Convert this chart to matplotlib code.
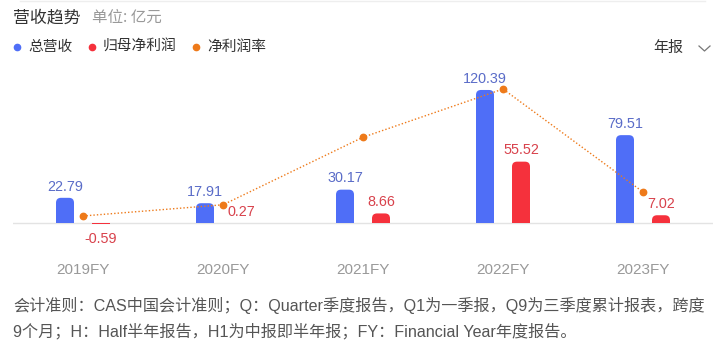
import numpy as np
import matplotlib
matplotlib.use("Agg")
import matplotlib.pyplot as plt
from matplotlib.patches import FancyBboxPatch, Rectangle
from matplotlib.lines import Line2D

plt.rcParams['font.family'] = ['Liberation Sans', 'Noto Sans CJK SC', 'DejaVu Sans']
CJK = ['Noto Sans CJK SC', 'DejaVu Sans']

# data (亿元, %)
years = ['2019FY', '2020FY', '2021FY', '2022FY', '2023FY']
revenue = [22.79, 17.91, 30.17, 120.39, 79.51]
net_profit = [-0.59, 0.27, 8.66, 55.52, 7.02]
net_margin = [-2.6, 1.7, 27.6, 46.1, 6.6]

blue = '#4f6ef7'
red = '#f5313c'
orange = '#ee7a1a'
blue_txt = '#5a6cc8'
red_txt = '#d8424c'

W, H = 722, 352
fig = plt.figure(figsize=(W / 100, H / 100), dpi=100)

# axes placed in pixel coords
ax_l, ax_r, ax_t, ax_b = 13, 713, 60, 250
ax = fig.add_axes([ax_l / W, 1 - ax_b / H, (ax_r - ax_l) / W, (ax_b - ax_t) / H])
zero_px = 223
ypx = 1.105  # px per 亿元
ax.set_ylim(-(ax_b - zero_px) / ypx, (zero_px - ax_t) / ypx)
ax.set_xlim(-0.5, len(years) - 0.5)
ax.axis('off')

x = np.arange(len(years))
bw = 18 / 140
off = 18 / 140
xpx = (ax_r - ax_l) / len(years)
aspect = (1 / ypx) / (1 / xpx)
r_px = 5


def rounded(bars, color):
    for b in bars:
        bx, by, w, h = b.get_x(), b.get_y(), b.get_width(), b.get_height()
        if h * ypx <= 2:
            continue
        b.set_visible(False)
        r = min(r_px, h * ypx) / xpx
        ry = r * aspect
        p = FancyBboxPatch((bx, by - ry), w, h + ry,
                           boxstyle=f"round,pad=0,rounding_size={r}",
                           mutation_aspect=aspect, fc=color, ec='none', zorder=3)
        ax.add_patch(p)
        clip = Rectangle((bx, 0), w, h + ry, transform=ax.transData)
        p.set_clip_path(clip)


ax.axhline(0, color='#e3e3e3', lw=1, zorder=1)
b1 = ax.bar(x - off, revenue, bw, color=blue, zorder=3)
b2 = ax.bar(x + off, net_profit, bw, color=red, zorder=3)
rounded(b1, blue)
rounded(b2, red)

for i in range(len(years)):
    ax.annotate(f'{revenue[i]:.2f}', (x[i] - off, revenue[i]), xytext=(0, 3),
                textcoords='offset points', ha='center', va='bottom',
                fontsize=10.4, color=blue_txt, zorder=5)
    v = net_profit[i]
    if v >= 0:
        ax.annotate(f'{v:.2f}', (x[i] + off, v), xytext=(0, 3),
                    textcoords='offset points', ha='center', va='bottom',
                    fontsize=10.4, color=red_txt, zorder=5)
    else:
        ax.annotate(f'{v:.2f}', (x[i] + off, v), xytext=(0, -6),
                    textcoords='offset points', ha='center', va='top',
                    fontsize=10.4, color=red_txt, zorder=5)
    ax.text(x[i], -(270 - zero_px) / ypx, years[i], ha='center', va='center',
            fontsize=11, color='#999999')

# margin on secondary axis
ax2 = ax.twinx()
a, k = 209.2, 2.607
ax2.set_ylim((a - ax_b) / k, (a - ax_t) / k)
ax2.axis('off')
ax2.plot(x, net_margin, color=orange, lw=1, ls=(0, (1, 1.5)), marker='o',
         ms=4.6, mec=orange, mfc=orange, zorder=6)

# header
def ft(px, py, s, **kw):
    fig.text(px / W, 1 - py / H, s, **kw)

fig.add_artist(Line2D([20 / W, 705 / W], [1 - 0.5 / H, 1 - 0.5 / H], color='#eeeeee', lw=1))
ft(13, 17, '营收趋势', fontsize=12.2, color='#333333', va='center', family=CJK)
ft(92, 17, '单位: 亿元', fontsize=11.2, color='#999999', va='center', family=CJK)
for dx, tx, lab, c in [(17, 28, '总营收', blue), (92, 103, '归母净利润', red),
                       (196, 207, '净利润率', orange)]:
    fig.add_artist(Line2D([dx / W], [1 - 47 / H], marker='o', ms=4.5, color=c, lw=0))
    ft(tx, 47, lab, fontsize=10.6, color='#333333', va='center', family=CJK)
ft(653, 48, '年报', fontsize=10.8, color='#333333', va='center', family=CJK)
fig.add_artist(Line2D([699 / W, 704.5 / W, 710 / W],
                      [1 - 46 / H, 1 - 51 / H, 1 - 46 / H], color='#777777', lw=0.9))

ft(13, 306, '会计准则：CAS中国会计准则；Q：Quarter季度报告，Q1为一季报，Q9为三季度累计报表，跨度',
   fontsize=11.6, color='#555555', va='center')
ft(13, 331, '9个月；H：Half半年报告，H1为中报即半年报；FY：Financial Year年度报告。',
   fontsize=11.6, color='#555555', va='center')

fig.savefig('out.png', dpi=100, facecolor='white')
